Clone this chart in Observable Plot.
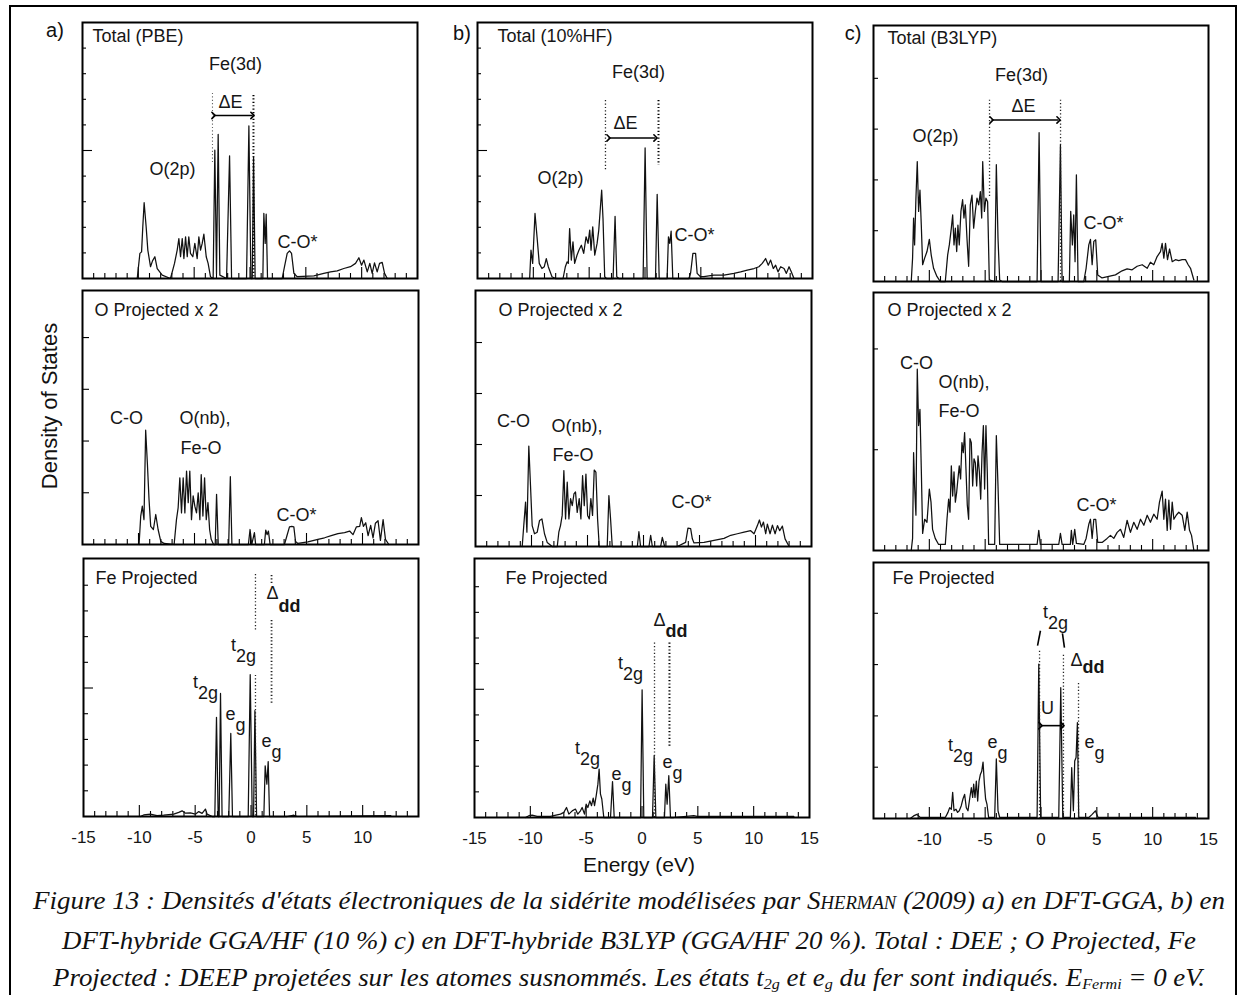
<!DOCTYPE html>
<html><head><meta charset="utf-8">
<script src="https://cdn.jsdelivr.net/npm/d3@7"></script>
<script src="https://cdn.jsdelivr.net/npm/@observablehq/plot@0.6"></script>
<style>
body{margin:0;background:#fff;}
#fig{position:relative;width:1247px;height:995px;overflow:hidden;font-family:"Liberation Sans",Arial,sans-serif;color:#111;background:#fff;}
.abs{position:absolute;white-space:nowrap;line-height:1;}
.ctr{transform:translate(-50%,-50%);}
.cap{position:absolute;left:629px;white-space:nowrap;font-family:"Liberation Serif","Times New Roman",serif;font-style:italic;font-size:26px;line-height:30px;transform-origin:center;}
.cap sub{font-size:0.6em;vertical-align:-0.18em;line-height:0;}
.sc{font-variant:small-caps;}
#border{position:absolute;left:9px;top:5px;width:1228px;height:1010px;border:2px solid #000;box-sizing:border-box;}
</style></head><body><div id="fig"><div id="border"></div></div>
<script>
// ---- data: [energy (eV), density of states] ----
const totalPBE = [[-10.10,0],[-9.86,0.98],[-9.71,1.04],[-9.60,2.02],[-9.48,2.96],[-9.30,2.02],[-9.15,1.11],[-8.91,0.46],[-8.73,0.69],[-8.52,0.85],[-8.31,0.39],[-7.86,0.13],[-7.12,0],[-6.76,0.59],[-6.52,1.11],[-6.37,1.56],[-6.22,0.85],[-6.07,1.56],[-5.92,0.78],[-5.77,1.63],[-5.62,0.85],[-5.48,1.63],[-5.33,0.98],[-5.12,0.85],[-4.94,1.37],[-4.73,0.78],[-4.58,1.63],[-4.43,1.11],[-4.28,1.37],[-4.13,1.73],[-3.92,0.85],[-3.75,0.59],[-3.54,0.07],[-3.30,0],[-3.15,5.01],[-3.00,0.2],[-2.85,5.63],[-2.70,0.13],[-2.10,0],[-1.83,4.79],[-1.65,0],[-0.31,0],[-0.10,5.96],[0.08,0],[0.20,0],[0.32,4.75],[0.46,0],[1.15,0],[1.24,2.54],[1.36,1.37],[1.45,2.51],[1.57,0],[2.88,0],[3.09,0.46],[3.33,0.98],[3.54,1.08],[3.72,0.98],[3.93,0.2],[4.23,0.07],[5.72,0.1],[6.61,0.2],[7.21,0.26],[7.81,0.3],[8.40,0.39],[9.00,0.46],[9.45,0.59],[9.75,0.81],[9.99,0.52],[10.20,0.72],[10.50,0.26],[10.73,0.59],[10.94,0.2],[11.15,0.61],[11.39,0.26],[11.60,0.59],[11.84,0.63],[12.05,0.2],[12.29,0]];
const total10HF = [[-10.33,0],[-10.21,1.11],[-10.06,0.59],[-9.85,2.54],[-9.67,1.63],[-9.47,0.59],[-9.23,0.39],[-9.02,0.46],[-8.84,0.78],[-8.66,0.46],[-8.33,0.07],[-8.03,0],[-7.34,0],[-7.13,0.46],[-6.98,0.65],[-6.87,0.59],[-6.75,1.95],[-6.60,0.72],[-6.45,1.43],[-6.30,0.59],[-6.09,0.91],[-5.91,1.11],[-5.70,1.30],[-5.49,0.98],[-5.28,1.63],[-5.10,1.37],[-4.95,1.89],[-4.83,1.11],[-4.68,2.02],[-4.50,0.91],[-4.29,1.37],[-4.14,1.89],[-3.99,2.80],[-3.88,3.45],[-3.76,2.34],[-3.61,0.07],[-3.46,0],[-2.86,0],[-2.68,2.43],[-2.53,0.07],[-2.35,0],[-0.17,0],[0.01,5.10],[0.19,0],[0.94,0],[1.09,3.29],[1.27,0],[1.98,0],[2.10,1.63],[2.22,1.37],[2.34,1.85],[2.49,0],[3.93,0],[4.08,0.2],[4.29,0.98],[4.53,0.98],[4.67,0.2],[4.97,0.07],[5.27,0.07],[6.17,0.13],[7.07,0.13],[7.96,0.2],[8.56,0.26],[9.16,0.33],[9.76,0.39],[10.20,0.46],[10.50,0.59],[10.80,0.78],[11.04,0.52],[11.25,0.72],[11.49,0.39],[11.70,0.52],[11.91,0.26],[12.15,0.46],[12.45,0.39],[12.66,0.2],[12.90,0.46],[13.10,0.26],[13.34,0]];
const totalB3LYP = [[-11.62,0],[-11.50,0.46],[-11.41,1.25],[-11.32,0.72],[-11.20,1.64],[-11.08,2.36],[-10.96,1.38],[-10.84,1.80],[-10.72,1.11],[-10.60,0.33],[-10.42,0.46],[-10.21,0.59],[-10.00,0.83],[-9.83,0.52],[-9.62,0.26],[-9.32,0.10],[-9.02,0],[-8.57,0],[-8.36,0.52],[-8.21,0.72],[-8.03,1.05],[-7.91,1.31],[-7.79,0.72],[-7.67,1.05],[-7.55,0.59],[-7.44,1.11],[-7.32,0.72],[-7.17,1.38],[-7.02,1.61],[-6.90,1.25],[-6.78,1.51],[-6.63,0.85],[-6.48,0.30],[-6.33,1.51],[-6.18,1.70],[-6.03,1.05],[-5.88,1.38],[-5.73,1.64],[-5.58,1.51],[-5.43,1.77],[-5.31,1.25],[-5.22,2.36],[-5.07,1.38],[-4.93,1.64],[-4.78,1.57],[-4.63,0.03],[-4.15,0],[-4.00,2.30],[-3.85,0.85],[-3.70,0.03],[-3.49,0],[-0.35,0],[-0.17,2.93],[0.00,0],[1.53,0],[1.74,2.69],[1.89,0],[2.54,0],[2.66,1.38],[2.81,0.72],[2.93,1.31],[3.05,0.39],[3.17,2.10],[3.32,0],[3.83,0],[4.04,0.26],[4.28,0.72],[4.43,0.83],[4.58,0.33],[4.73,0.79],[4.90,0.82],[5.08,0.13],[5.47,0.07],[6.07,0.10],[6.67,0.13],[7.26,0.21],[7.71,0.25],[8.16,0.23],[8.61,0.30],[9.06,0.33],[9.51,0.26],[9.80,0.38],[10.10,0.33],[10.40,0.49],[10.70,0.59],[10.85,0.75],[11.00,0.46],[11.15,0.75],[11.33,0.43],[11.51,0.64],[11.75,0.39],[12.04,0.43],[12.34,0.41],[12.64,0.43],[12.94,0.43],[13.18,0.33],[13.39,0.26],[13.69,0.03]];
const oPBE = [[-9.95,0],[-9.80,0.55],[-9.66,0.74],[-9.51,0.48],[-9.36,2.21],[-9.21,1.58],[-9.06,0.87],[-8.91,0.35],[-8.67,0.29],[-8.46,0.58],[-8.25,0.29],[-8.01,0.06],[-7.71,0.02],[-6.82,0],[-6.61,0.48],[-6.46,0.71],[-6.31,1.29],[-6.16,0.61],[-6.01,1.29],[-5.86,0.61],[-5.71,1.42],[-5.56,0.81],[-5.42,1.42],[-5.27,0.48],[-5.12,0.94],[-4.97,0.74],[-4.82,0.61],[-4.67,1.0],[-4.52,0.48],[-4.40,1.35],[-4.25,0.55],[-4.10,1.29],[-3.95,0.48],[-3.80,0.81],[-3.65,0.29],[-3.51,0.10],[-3.30,0],[-3.15,0],[-3.03,0.97],[-2.88,0],[-1.95,0],[-1.80,1.31],[-1.66,0],[-0.19,0],[-0.04,0.29],[0.11,0],[0.35,0.23],[0.46,0],[1.24,0],[1.36,0.28],[1.48,0.19],[1.60,0.26],[1.75,0],[3.03,0],[3.24,0.16],[3.48,0.34],[3.69,0.35],[3.87,0.34],[4.02,0.06],[4.23,0.02],[5.12,0.05],[6.02,0.10],[6.61,0.13],[7.21,0.17],[7.81,0.21],[8.40,0.23],[8.85,0.26],[9.15,0.19],[9.45,0.34],[9.75,0.35],[9.90,0.52],[10.08,0.35],[10.29,0.42],[10.50,0.17],[10.73,0.37],[10.94,0.13],[11.15,0.41],[11.39,0.46],[11.60,0.08],[11.84,0.48],[12.05,0.10],[12.35,0]];
const o10HF = [[-10.83,0],[-10.68,0.44],[-10.53,0.87],[-10.41,0.28],[-10.24,1.97],[-10.09,1.20],[-9.94,0.41],[-9.73,0.25],[-9.49,0.28],[-9.28,0.51],[-9.07,0.54],[-8.84,0.25],[-8.60,0.08],[-8.15,0],[-7.70,0],[-7.56,0.28],[-7.41,0.41],[-7.26,0.61],[-7.11,1.49],[-6.96,0.54],[-6.81,1.26],[-6.66,0.54],[-6.51,0.94],[-6.36,0.80],[-6.21,1.03],[-6.07,1.07],[-5.92,0.67],[-5.74,0.94],[-5.59,0.54],[-5.44,1.39],[-5.29,0.80],[-5.14,1.42],[-4.99,0.61],[-4.84,0.54],[-4.70,0.94],[-4.55,0.61],[-4.40,1.50],[-4.25,1.46],[-4.10,0.54],[-3.95,0],[-3.24,0],[-3.09,1.00],[-2.94,0.54],[-2.79,0],[-0.55,0],[-0.41,0.29],[-0.26,0],[0.49,0],[0.64,0.22],[0.79,0],[1.53,0],[1.68,0.18],[1.89,0],[3.02,0],[3.76,0.08],[3.97,0.36],[4.21,0.35],[4.36,0.15],[4.51,0.07],[5.40,0.08],[6.30,0.12],[7.19,0.16],[7.79,0.22],[8.38,0.25],[8.98,0.28],[9.57,0.31],[9.87,0.25],[10.17,0.41],[10.35,0.52],[10.53,0.38],[10.71,0.48],[10.91,0.25],[11.06,0.44],[11.30,0.25],[11.51,0.42],[11.75,0.25],[11.96,0.41],[12.16,0.31],[12.40,0.40],[12.64,0.15],[13.00,0]];
const oB3LYP = [[-11.62,0],[-11.50,0.12],[-11.41,0.97],[-11.32,0.64],[-11.20,0.35],[-11.08,1.80],[-10.96,1.24],[-10.84,1.40],[-10.72,0.81],[-10.60,0.17],[-10.42,0.31],[-10.21,0.28],[-10.00,0.61],[-9.85,0.48],[-9.71,0.21],[-9.47,0.12],[-9.17,0.06],[-8.57,0.06],[-8.42,0.31],[-8.27,0.51],[-8.15,0.38],[-8.03,0.84],[-7.91,0.54],[-7.79,0.78],[-7.67,0.48],[-7.55,0.58],[-7.44,0.71],[-7.32,0.84],[-7.20,0.71],[-7.08,1.07],[-6.96,0.97],[-6.84,1.17],[-6.72,0.81],[-6.60,0.45],[-6.48,0.31],[-6.36,1.11],[-6.24,1.07],[-6.12,0.64],[-6.00,0.91],[-5.88,0.87],[-5.76,0.64],[-5.64,0.94],[-5.52,0.78],[-5.40,0.51],[-5.28,0.97],[-5.16,1.24],[-5.05,0.61],[-4.93,1.24],[-4.81,0.78],[-4.69,0.06],[-4.15,0.06],[-4.00,1.14],[-3.85,0.64],[-3.70,0.06],[-0.35,0.06],[-0.20,0.20],[-0.06,0.06],[1.59,0.06],[1.74,0.17],[1.89,0.06],[2.63,0.06],[2.72,0.20],[2.84,0.06],[3.02,0.21],[3.17,0.07],[3.83,0.06],[4.04,0.12],[4.28,0.26],[4.43,0.31],[4.58,0.12],[4.73,0.31],[4.90,0.31],[5.08,0.08],[5.47,0.08],[5.92,0.12],[6.22,0.15],[6.52,0.12],[6.82,0.18],[7.12,0.21],[7.41,0.13],[7.71,0.30],[8.01,0.18],[8.31,0.28],[8.61,0.21],[8.91,0.31],[9.21,0.25],[9.51,0.35],[9.80,0.28],[10.10,0.36],[10.40,0.31],[10.61,0.48],[10.85,0.59],[11.00,0.31],[11.15,0.51],[11.30,0.20],[11.45,0.50],[11.60,0.21],[11.75,0.48],[11.90,0.31],[12.11,0.35],[12.34,0.38],[12.64,0.35],[12.88,0.20],[13.09,0.38],[13.30,0.20],[13.48,0.15],[13.69,0]];
const fePBE = [[-9.91,0],[-9.61,0.06],[-9.01,0.09],[-8.42,0.03],[-7.82,0.05],[-6.92,0.09],[-6.47,0.16],[-6.17,0.22],[-5.87,0.13],[-5.43,0.14],[-4.98,0.09],[-4.68,0.19],[-4.38,0.12],[-4.08,0.29],[-3.93,0.09],[-3.48,0],[-3.24,0],[-3.09,3.86],[-2.94,0],[-2.85,0],[-2.73,4.79],[-2.59,0],[-1.99,0],[-1.81,3.23],[-1.66,0],[-0.25,0],[-0.07,5.52],[0.11,0],[0.23,0],[0.35,4.12],[0.50,0],[1.15,0],[1.27,1.97],[1.42,1.26],[1.54,2.14],[1.66,0],[3.25,0],[3.84,0.05],[4.14,0],[12.52,0.03]];
const fe10HF = [[-10.43,0],[-10.13,0.07],[-9.84,0.09],[-9.39,0.04],[-8.20,0.04],[-7.30,0.13],[-7.00,0.20],[-6.76,0.39],[-6.55,0.13],[-6.25,0.26],[-5.96,0.33],[-5.75,0.13],[-5.51,0.26],[-5.36,0.39],[-5.15,0.13],[-5.00,0.52],[-4.85,0.39],[-4.67,0.65],[-4.52,0.46],[-4.37,0.76],[-4.25,0.46],[-4.10,0.85],[-3.95,1.30],[-3.84,1.89],[-3.72,0.91],[-3.60,0.72],[-3.42,0],[-2.82,0],[-2.64,1.40],[-2.49,0],[-0.13,0],[0.01,4.98],[0.16,0],[0.94,0],[1.09,2.41],[1.24,0],[2.01,0],[2.13,1.30],[2.25,0.52],[2.40,1.63],[2.55,0],[2.85,0],[4.64,0.07],[4.94,0.04],[13.60,0.04]];
const feB3LYP = [[-11.71,0],[-11.41,0.05],[-11.11,0.08],[-10.81,0.02],[-10.06,0.02],[-8.57,0.02],[-8.33,0.12],[-8.18,0.21],[-8.03,0.18],[-7.91,0.51],[-7.79,0.15],[-7.61,0.18],[-7.47,0.12],[-7.32,0.15],[-7.14,0.25],[-6.99,0.38],[-6.84,0.47],[-6.69,0.21],[-6.54,0.15],[-6.39,0.38],[-6.24,0.60],[-6.12,0.41],[-6.03,0.67],[-5.91,0.41],[-5.79,0.73],[-5.67,0.34],[-5.55,0.73],[-5.43,0.86],[-5.31,0.92],[-5.19,1.10],[-5.07,0.67],[-4.96,0.38],[-4.84,0.28],[-4.69,0.02],[-4.15,0.02],[-4.00,1.16],[-3.85,0.15],[-3.70,0.02],[-0.35,0.02],[-0.20,3.01],[-0.03,0.02],[1.59,0.02],[1.77,2.55],[1.95,0.02],[2.63,0.02],[2.75,0.99],[2.90,0.15],[3.02,1.12],[3.14,1.19],[3.26,1.87],[3.38,0.02],[4.28,0.02],[4.58,0.08],[4.87,0.15],[5.11,0.02],[13.84,0.02]];

const xMinorTicks = [-14,-13,-12,-11,-9,-8,-7,-6,-4,-3,-2,-1,1,2,3,4,6,7,8,9,11,12,13,14];
const xMajorTicks = [-10,-5,0,5,10];
const xLabelsA = [-15,-10,-5,0,5,10];
const xLabelsB = [-15,-10,-5,0,5,10,15];
const xLabelsC = [-10,-5,0,5,10,15];
const panelTitles = ["Total (PBE)","Total (10%HF)","Total (B3LYP)","O Projected x 2","O Projected x 2","O Projected x 2","Fe Projected","Fe Projected","Fe Projected"];

// ---- annotation helpers ----
const INK = "#161616";
const T = (x, y, text, o = {}) => Plot.text([{x, y, text}], {x: "x", y: "y", text: "text", fontSize: 18, fill: INK, textAnchor: "middle", lineAnchor: "middle", ...o});
const S = (x, y, main, sub, dy = 11, bold = false) => [
  T(x, y, main, {textAnchor: "end"}),
  T(x, y, sub, {textAnchor: "start", dy, fontWeight: bold ? "bold" : "normal"})
];
const R = (x, y1, y2, w = 1.3, c = "#222") => Plot.ruleX([{x, y1, y2}], {x: "x", y1: "y1", y2: "y2", stroke: c, strokeWidth: w, strokeDasharray: "1.2,2.2"});
const A = (x1, x2, y) => Plot.link([{x1, x2, y}], {x1: "x1", x2: "x2", y1: "y", y2: "y", stroke: "#000", strokeWidth: 1.6, markerStart: "arrow", markerEnd: "arrow"});
const L = (x1, y1, x2, y2) => Plot.link([{x1, y1, x2, y2}], {x1: "x1", y1: "y1", x2: "x2", y2: "y2", stroke: "#000", strokeWidth: 1.6});

const panels = [
  {data: totalPBE, left: 82, top: 22, w: 335, h: 256, ymax: 10, minor: [1,2,3,4,6,7,8,9], major: [5], tl: 4, tdx: 10, tdy: 14,
   notes: [T(-1.30, 8.36, "Fe(3d)"), T(-1.75, 6.88, "ΔE"), R(-3.36, 7.23, 4.49, 1.1, "#666"), R(0.31, 7.15, 0, 2.0, "#000"), A(-3.27, 0.22, 6.37), T(-6.94, 4.26, "O(2p)"), T(2.46, 1.41, "C-O*", {textAnchor: "start"})]},
  {data: total10HF, left: 477, top: 22, w: 335, h: 256, ymax: 10, minor: [1,2,3,4,6,7,8,9], major: [5], tl: 4, tdx: 20, tdy: 14,
   notes: [T(-0.58, 8.05, "Fe(3d)"), T(-1.75, 6.05, "ΔE"), R(-3.54, 6.95, 4.22, 1.3), R(1.21, 6.95, 4.41, 2.0, "#000"), A(-3.27, 0.94, 5.49), T(-7.57, 3.91, "O(2p)"), T(2.64, 1.68, "C-O*", {textAnchor: "start"})]},
  {data: totalB3LYP, left: 873, top: 25, w: 335, h: 256, ymax: 5.04, minor: [1,2,3,4], major: [], tl: 5, tdx: 14, tdy: 13,
   notes: [T(-1.75, 4.06, "Fe(3d)"), T(-1.57, 3.45, "ΔE"), R(-4.61, 3.57, 1.64), R(1.75, 3.57, 0), A(-4.43, 1.57, 3.18), T(-9.45, 2.86, "O(2p)"), T(3.81, 1.15, "C-O*", {textAnchor: "start"})]},
  {data: oPBE, left: 82, top: 290, w: 336, h: 254, ymax: 4.91, minor: [1,2,3,4], major: [], tl: 7, tdx: 12, tdy: 20,
   notes: [T(-11.07, 2.44, "C-O"), T(-6.34, 2.44, "O(nb),", {textAnchor: "start"}), T(-6.25, 1.86, "Fe-O", {textAnchor: "start"}), T(2.32, 0.56, "C-O*", {textAnchor: "start"})]},
  {data: o10HF, left: 475, top: 290, w: 336, h: 256, ymax: 5.02, minor: [1,2,3,4], major: [], tl: 7, tdx: 23, tdy: 20,
   notes: [T(-11.61, 2.45, "C-O"), T(-8.21, 2.35, "O(nb),", {textAnchor: "start"}), T(-8.13, 1.78, "Fe-O", {textAnchor: "start"}), T(2.50, 0.86, "C-O*", {textAnchor: "start"})]},
  {data: oB3LYP, left: 873, top: 292, w: 335, h: 258, ymax: 2.56, minor: [1,2], major: [], tl: 5, tdx: 14, tdy: 18,
   notes: [T(-11.15, 1.86, "C-O"), T(-9.18, 1.67, "O(nb),", {textAnchor: "start"}), T(-9.18, 1.38, "Fe-O", {textAnchor: "start"}), T(3.18, 0.45, "C-O*", {textAnchor: "start"})]},
  {data: fePBE, left: 83, top: 558, w: 335, h: 258, ymax: 10.04, minor: [1,2,3,4,6,7,8,9], major: [5], tl: 5, tdx: 12, tdy: 20, labels: xLabelsA,
   notes: [R(0.40, 9.42, 7.20), R(0.40, 5.49, 0), R(1.84, 9.38, 9.07, 1.8), R(1.84, 7.63, 4.32, 1.8), ...S(2.46, 8.68, "Δ", "dd", 13, true), ...S(-1.35, 6.65, "t", "2g"), ...S(-4.75, 5.21, "t", "2g"), ...S(-1.39, 3.97, "e", "g"), ...S(1.84, 2.92, "e", "g")]},
  {data: fe10HF, left: 474, top: 558, w: 335, h: 259, ymax: 10.1, minor: [1,2,3,4,6,7,8,9], major: [5], tl: 5, tdx: 31, tdy: 20, labels: xLabelsB,
   notes: [R(1.12, 6.80, 0), R(2.46, 6.80, 2.77, 2.0, "#000"), ...S(2.11, 7.70, "Δ", "dd", 11, true), ...S(-1.71, 6.02, "t", "2g"), ...S(-5.56, 2.70, "t", "2g"), ...S(-1.83, 1.68, "e", "g"), ...S(2.73, 2.15, "e", "g")]},
  {data: feB3LYP, left: 873, top: 562, w: 335, h: 256, ymax: 4.99, minor: [1,2,3,4], major: [], tl: 5, tdx: 19, tdy: 16, labels: xLabelsC,
   notes: [...S(0.62, 4.02, "t", "2g"), L(-0.31, 3.37, -0.05, 3.66), L(1.92, 3.61, 2.10, 3.33), R(-0.13, 3.26, 0), R(2.01, 3.18, 0), T(0.58, 2.14, "U"), A(-0.05, 1.92, 1.81), ...S(3.72, 3.08, "Δ", "dd", 7, true), R(3.36, 2.63, 0), ...S(4.79, 1.48, "e", "g"), ...S(-7.88, 1.42, "t", "2g"), ...S(-3.89, 1.48, "e", "g")]}
];

const fig = document.getElementById("fig");
panels.forEach((p, i) => {
  const ml = 1, mr = 1, mt = 1, mb = p.labels ? 36 : 1;
  const marks = [
    Plot.tickX(xMinorTicks, {x: d => d, insetTop: p.h - 5, stroke: "#000", strokeWidth: 1.1}),
    Plot.tickX(xMajorTicks, {x: d => d, insetTop: p.h - 11, stroke: "#000", strokeWidth: 1.1}),
    Plot.tickY(p.minor, {y: d => d, insetRight: p.w - p.tl, stroke: "#000", strokeWidth: 1.1}),
    Plot.tickY(p.major, {y: d => d, insetRight: p.w - 10, stroke: "#000", strokeWidth: 1.1}),
    Plot.line(p.data, {x: d => d[0], y: d => d[1], stroke: "#111", strokeWidth: 1.25}),
    Plot.text([panelTitles[i]], {frameAnchor: "top-left", dx: p.tdx, dy: p.tdy, textAnchor: "start", lineAnchor: "middle", fontSize: 18, fill: INK}),
    ...p.notes,
    Plot.frame({stroke: "#000", strokeWidth: 2})
  ];
  if (p.labels) marks.push(Plot.axisX({ticks: p.labels, tickSize: 0, tickPadding: 14, tickFormat: d => String(d), fontSize: 17, label: null, fill: INK}));
  const chart = Plot.plot({
    width: p.w + ml + mr, height: p.h + mt + mb,
    marginLeft: ml, marginRight: mr, marginTop: mt, marginBottom: mb,
    x: p.labels ? {domain: [-15, 15]} : {domain: [-15, 15], axis: null},
    y: {domain: [0, p.ymax], axis: null},
    style: {fontFamily: "'Liberation Sans', Arial, sans-serif", fontSize: "18px", background: "none", overflow: "visible"},
    marks
  });
  chart.style.position = "absolute";
  chart.style.left = (p.left - ml) + "px";
  chart.style.top = (p.top - mt) + "px";
  fig.appendChild(chart);
});

function addText(html, x, y, css) {
  const d = document.createElement("div");
  d.className = "abs ctr";
  d.innerHTML = html;
  d.style.left = x + "px"; d.style.top = y + "px";
  Object.assign(d.style, css || {});
  fig.appendChild(d);
  return d;
}
addText("a)", 55, 30, {fontSize: "20px"});
addText("b)", 462, 33, {fontSize: "20px"});
addText("c)", 853, 33, {fontSize: "20px"});
addText("Density of States", 50, 406, {fontSize: "22px", transform: "translate(-50%,-50%) rotate(-90deg)"});
addText("Energy (eV)", 639, 864, {fontSize: "21px"});

const capLines = [
  {html: "Figure 13 : Densités d'états électroniques de la sidérite modélisées par <span class='sc'>Sherman</span> (2009) a) en DFT-GGA, b) en", top: 886, width: 1192},
  {html: "DFT-hybride GGA/HF (10 %) c) en DFT-hybride B3LYP (GGA/HF 20 %). Total : DEE ; O Projected, Fe", top: 926, width: 1134},
  {html: "Projected : DEEP projetées sur les atomes susnommés. Les états t<sub>2g</sub> et e<sub>g</sub> du fer sont indiqués. E<sub>Fermi</sub> = 0 eV.", top: 963, width: 1152}
];
capLines.forEach(c => {
  const d = document.createElement("div");
  d.className = "cap";
  d.innerHTML = c.html;
  d.style.top = c.top + "px";
  fig.appendChild(d);
  const w = d.getBoundingClientRect().width;
  d.style.transform = `translateX(-50%) scaleX(${(c.width / w).toFixed(4)})`;
});
</script></body></html>
